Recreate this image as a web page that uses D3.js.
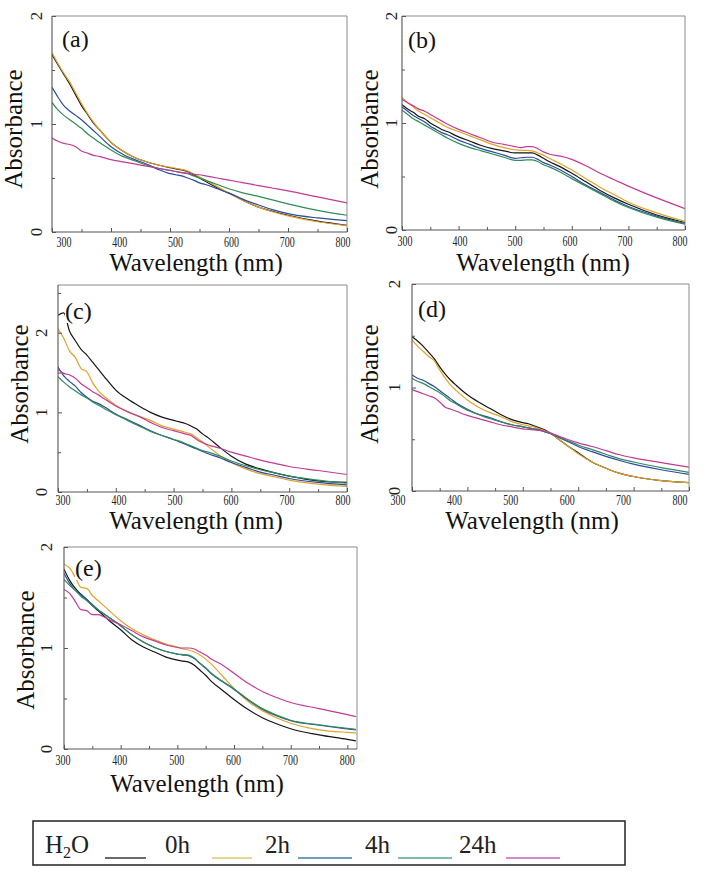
<!DOCTYPE html>
<html><head><meta charset="utf-8">
<script src="https://cdn.jsdelivr.net/npm/d3@7"></script>
<style>body{margin:0;background:#fff}svg{display:block}</style>
</head><body>
<svg id="chart" width="714" height="876"></svg>
<script>
// ---------- data ----------
const seriesNames = ["H2O", "0h", "2h", "4h", "24h"];
const wl  = [300,310,320,330,340,350,360,370,380,400,420,440,460,480,500,510,520,530,540,550,560,580,600,625,650,675,700,750,800];
const wlE = [300,310,320,330,340,350,360,370,380,400,420,440,460,480,500,510,520,530,540,550,560,580,600,625,650,675,700,750,800,815];
const xTicks = [300,400,500,600,700,800];
const xMinor = [350,450,550,650,750];

const a_H2O = [1.64,1.55,1.46,1.37,1.27,1.17,1.09,1.01,0.95,0.83,0.75,0.69,0.65,0.62,0.595,0.585,0.575,0.56,0.53,0.50,0.47,0.41,0.36,0.29,0.23,0.19,0.155,0.10,0.062];
const a_0h  = [1.66,1.56,1.47,1.39,1.29,1.19,1.10,1.02,0.95,0.83,0.75,0.69,0.65,0.62,0.60,0.59,0.58,0.565,0.54,0.51,0.48,0.42,0.36,0.29,0.23,0.185,0.15,0.095,0.06];
const a_2h  = [1.34,1.25,1.17,1.12,1.08,1.04,0.99,0.94,0.89,0.79,0.72,0.67,0.63,0.58,0.54,0.53,0.52,0.50,0.48,0.455,0.44,0.40,0.36,0.30,0.25,0.205,0.17,0.13,0.105];
const a_4h  = [1.20,1.13,1.08,1.04,1.00,0.96,0.91,0.87,0.83,0.76,0.70,0.66,0.62,0.59,0.57,0.56,0.55,0.54,0.52,0.50,0.48,0.44,0.40,0.36,0.33,0.295,0.26,0.20,0.155];
const a_24h = [0.87,0.84,0.82,0.81,0.79,0.75,0.73,0.71,0.70,0.67,0.65,0.63,0.61,0.59,0.57,0.56,0.55,0.545,0.535,0.53,0.52,0.50,0.48,0.455,0.43,0.405,0.38,0.325,0.27];

const b_H2O = [1.17,1.13,1.10,1.06,1.04,1.00,0.97,0.94,0.92,0.87,0.83,0.79,0.76,0.74,0.72,0.72,0.72,0.72,0.70,0.67,0.64,0.59,0.53,0.45,0.37,0.30,0.24,0.14,0.07];
const b_0h  = [1.24,1.19,1.15,1.11,1.08,1.05,1.02,0.99,0.96,0.92,0.88,0.84,0.80,0.77,0.75,0.745,0.745,0.74,0.72,0.70,0.67,0.62,0.56,0.48,0.40,0.33,0.26,0.16,0.08];
const b_2h  = [1.15,1.11,1.07,1.04,1.01,0.97,0.94,0.91,0.89,0.84,0.80,0.76,0.73,0.70,0.67,0.675,0.68,0.68,0.66,0.63,0.61,0.56,0.50,0.42,0.35,0.28,0.22,0.13,0.06];
const b_4h  = [1.12,1.08,1.04,1.01,0.98,0.95,0.92,0.89,0.86,0.81,0.77,0.74,0.71,0.68,0.65,0.65,0.655,0.655,0.64,0.61,0.59,0.54,0.48,0.41,0.34,0.27,0.21,0.12,0.055];
const b_24h = [1.22,1.19,1.16,1.13,1.11,1.08,1.05,1.02,0.99,0.94,0.90,0.86,0.82,0.80,0.78,0.77,0.78,0.78,0.76,0.73,0.71,0.69,0.66,0.60,0.53,0.47,0.41,0.30,0.20];

const c_H2O = [2.22,2.25,2.02,1.90,1.79,1.72,1.63,1.54,1.45,1.28,1.17,1.08,1.00,0.94,0.90,0.88,0.86,0.83,0.79,0.73,0.68,0.56,0.45,0.35,0.29,0.24,0.20,0.14,0.12];
const c_0h  = [2.05,1.93,1.77,1.69,1.55,1.51,1.37,1.27,1.20,1.09,1.01,0.95,0.90,0.83,0.79,0.77,0.75,0.73,0.68,0.63,0.57,0.46,0.37,0.29,0.23,0.19,0.15,0.10,0.07];
const c_2h  = [1.57,1.46,1.39,1.33,1.25,1.19,1.14,1.11,1.07,0.98,0.91,0.84,0.77,0.71,0.66,0.63,0.60,0.57,0.54,0.51,0.48,0.43,0.37,0.31,0.25,0.21,0.17,0.12,0.09];
const c_4h  = [1.45,1.38,1.32,1.27,1.22,1.18,1.13,1.09,1.05,0.97,0.90,0.83,0.76,0.71,0.66,0.64,0.61,0.58,0.55,0.52,0.50,0.45,0.39,0.33,0.28,0.24,0.20,0.15,0.11];
const c_24h = [1.54,1.49,1.47,1.43,1.36,1.31,1.26,1.22,1.17,1.08,1.01,0.95,0.875,0.81,0.77,0.75,0.73,0.71,0.66,0.62,0.59,0.55,0.50,0.45,0.40,0.36,0.32,0.27,0.22];

const d_H2O = [1.49,1.45,1.40,1.34,1.28,1.20,1.13,1.07,1.02,0.93,0.86,0.80,0.74,0.69,0.66,0.65,0.63,0.61,0.59,0.56,0.52,0.44,0.37,0.28,0.22,0.17,0.14,0.10,0.08];
const d_0h  = [1.46,1.40,1.35,1.30,1.26,1.17,1.09,1.02,0.97,0.88,0.81,0.76,0.72,0.67,0.64,0.63,0.62,0.60,0.58,0.56,0.52,0.44,0.36,0.28,0.22,0.17,0.14,0.10,0.08];
const d_2h  = [1.12,1.09,1.07,1.04,1.01,0.97,0.93,0.89,0.85,0.79,0.74,0.71,0.67,0.64,0.62,0.61,0.60,0.59,0.57,0.555,0.53,0.48,0.43,0.38,0.335,0.295,0.26,0.205,0.16];
const d_4h  = [1.09,1.06,1.04,1.01,0.98,0.95,0.91,0.87,0.84,0.78,0.74,0.70,0.67,0.64,0.62,0.61,0.60,0.59,0.57,0.555,0.535,0.49,0.445,0.40,0.355,0.31,0.28,0.225,0.18];
const d_24h = [0.98,0.96,0.94,0.92,0.90,0.86,0.81,0.79,0.77,0.73,0.70,0.67,0.64,0.62,0.60,0.595,0.59,0.585,0.575,0.56,0.54,0.50,0.465,0.43,0.39,0.35,0.32,0.275,0.23];

const e_H2O = [1.78,1.67,1.59,1.53,1.48,1.42,1.37,1.32,1.27,1.18,1.08,1.01,0.96,0.91,0.88,0.87,0.86,0.83,0.78,0.73,0.67,0.58,0.49,0.39,0.31,0.25,0.20,0.14,0.095,0.08];
const e_0h  = [1.83,1.79,1.70,1.60,1.59,1.52,1.47,1.42,1.37,1.27,1.19,1.13,1.08,1.04,1.01,0.99,0.98,0.96,0.93,0.89,0.84,0.72,0.60,0.47,0.38,0.31,0.255,0.19,0.165,0.16];
const e_2h  = [1.74,1.64,1.57,1.53,1.48,1.43,1.38,1.34,1.30,1.22,1.13,1.06,1.005,0.965,0.94,0.93,0.925,0.895,0.845,0.80,0.745,0.665,0.59,0.485,0.395,0.33,0.28,0.235,0.20,0.19];
const e_4h  = [1.68,1.62,1.57,1.51,1.47,1.42,1.38,1.34,1.30,1.22,1.13,1.06,1.005,0.965,0.94,0.935,0.93,0.90,0.85,0.805,0.75,0.67,0.595,0.49,0.40,0.335,0.285,0.24,0.205,0.195];
const e_24h = [1.58,1.54,1.46,1.38,1.37,1.33,1.33,1.31,1.28,1.23,1.17,1.11,1.07,1.03,1.005,1.00,1.00,0.99,0.96,0.93,0.89,0.83,0.75,0.65,0.57,0.51,0.46,0.40,0.34,0.32];

// ---------- styles ----------
const seriesColors = ["#151515", "#e0a22a", "#2c4a9e", "#2e8b5a", "#c23a98"];
const legendColors = ["#6b6b6b", "#e6d98c", "#6aa3b8", "#7cc0a4", "#d48ace"];
const FONT = '"Liberation Serif"';

const panels = [
  {tag:"(a)", wl:wl,  data:[a_H2O,a_0h,a_2h,a_4h,a_24h], left:52,  right:347, top:16,  bottom:232, xMax:800, yMax:2,   inset:[12,4],  yOff:10, yTitle:[22,129],  xTitle:[196,271], xTickY:247, tagPos:[62,47]},
  {tag:"(b)", wl:wl,  data:[b_H2O,b_0h,b_2h,b_4h,b_24h], left:402, right:685, top:16,  bottom:230, xMax:800, yMax:2,   inset:[3,5],   yOff:5,  yTitle:[378,129], xTitle:[543,271], xTickY:246, tagPos:[408,48]},
  {tag:"(c)", wl:wl,  data:[c_H2O,c_0h,c_2h,c_4h,c_24h], left:58,  right:347, top:285, bottom:492, xMax:800, yMax:2.6, inset:[5,4],   yOff:11, yTitle:[28,384],  xTitle:[196,529], xTickY:505, tagPos:[65,319]},
  {tag:"(d)", wl:wl,  data:[d_H2O,d_0h,d_2h,d_4h,d_24h], left:412, right:689, top:284, bottom:491, xMax:800, yMax:2,   inset:[-14,9], yOff:12, yTitle:[378,384], xTitle:[532,529], xTickY:505, tagPos:[418,317]},
  {tag:"(e)", wl:wlE, data:[e_H2O,e_0h,e_2h,e_4h,e_24h], left:64,  right:357, top:547, bottom:749, xMax:817, yMax:2,   inset:[-1,0],  yOff:12, yTitle:[34,650],  xTitle:[197,792], xTickY:765, tagPos:[75,576]}
];

const svg = d3.select("#chart");
svg.append("rect").attr("width",714).attr("height",876).attr("fill","#fff");

function txt(sel) { return sel.style("font-family", FONT); }

panels.forEach((p, pi) => {
  const x = d3.scaleLinear().domain([300, p.xMax]).range([p.left, p.right]);
  const y = d3.scaleLinear().domain([0, p.yMax]).range([p.bottom, p.top]);
  const g = svg.append("g");

  const clipId = "clip" + pi;
  svg.append("clipPath").attr("id", clipId).append("rect")
    .attr("x", p.left).attr("y", p.top).attr("width", p.right - p.left).attr("height", p.bottom - p.top);

  const line = d3.line().x(d => x(d[0])).y(d => y(d[1])).curve(d3.curveMonotoneX);
  p.data.forEach((vals, i) => {
    g.append("path")
      .datum(p.wl.map((w, j) => [w, vals[j]]))
      .attr("d", line)
      .attr("fill", "none")
      .attr("stroke", seriesColors[i])
      .attr("stroke-width", 1.2)
      .attr("clip-path", `url(#${clipId})`);
  });

  // frame
  g.append("line").attr("x1",p.left).attr("x2",p.right).attr("y1",p.top).attr("y2",p.top).attr("stroke","#8a8a8a");
  g.append("line").attr("x1",p.right).attr("x2",p.right).attr("y1",p.top).attr("y2",p.bottom).attr("stroke","#8a8a8a");

  // ticks
  const axB = g.append("g").attr("transform", `translate(0,${p.bottom})`)
    .call(d3.axisBottom(x).tickValues(xTicks).tickSize(-4).tickFormat(""));
  const axBm = g.append("g").attr("transform", `translate(0,${p.bottom})`)
    .call(d3.axisBottom(x).tickValues(xMinor).tickSize(-3).tickFormat(""));
  const yMaj = [0,1,2].filter(v => v <= p.yMax);
  const yMin = [0.5,1.5,2.5].filter(v => v <= p.yMax);
  const axL = g.append("g").attr("transform", `translate(${p.left},0)`)
    .call(d3.axisLeft(y).tickValues(yMaj).tickSize(-4).tickFormat(""));
  const axLm = g.append("g").attr("transform", `translate(${p.left},0)`)
    .call(d3.axisLeft(y).tickValues(yMin).tickSize(-3).tickFormat(""));
  [axB, axBm, axL, axLm].forEach(a => {
    a.selectAll(".domain").attr("stroke", "#555").attr("stroke-width", 1.1);
    a.selectAll(".tick line").attr("stroke", "#555");
  });
  axB.select(".domain").attr("d", `M${p.left},0H${p.right}`);
  axL.select(".domain").attr("d", `M0,${p.top}V${p.bottom}`);
  axBm.select(".domain").remove();
  axLm.select(".domain").remove();

  // x tick labels
  const lx = d3.scaleLinear().domain([300, 800]).range([x(300) + p.inset[0], x(800) - p.inset[1]]);
  txt(g.selectAll(".xl").data(xTicks).enter().append("text"))
    .attr("x", d => lx(d)).attr("y", p.xTickY)
    .attr("text-anchor", "middle")
    .attr("font-size", 14)
    .attr("textLength", 15).attr("lengthAdjust", "spacingAndGlyphs")
    .attr("fill", "#222")
    .text(d => d);

  // y tick labels (rotated)
  txt(g.selectAll(".yl").data(yMaj).enter().append("text"))
    .attr("transform", d => `translate(${p.left - p.yOff},${y(d)}) rotate(-90)`)
    .attr("text-anchor", "middle")
    .attr("font-size", 17)
    .attr("fill", "#222")
    .text(d => d);

  // axis titles
  txt(g.append("text"))
    .attr("transform", `translate(${p.yTitle[0]},${p.yTitle[1]}) rotate(-90)`)
    .attr("text-anchor", "middle")
    .attr("font-size", 25).attr("fill", "#111")
    .text("Absorbance");
  txt(g.append("text"))
    .attr("x", p.xTitle[0]).attr("y", p.xTitle[1])
    .attr("text-anchor", "middle")
    .attr("font-size", 25).attr("fill", "#111")
    .text("Wavelength (nm)");

  // panel tag with white backing
  const t = txt(g.append("text"))
    .attr("x", p.tagPos[0]).attr("y", p.tagPos[1])
    .attr("font-size", 24).attr("fill", "#111")
    .text(p.tag);
  const bb = t.node().getBBox();
  g.insert("rect", () => t.node())
    .attr("x", bb.x).attr("y", bb.y + 2).attr("width", bb.width).attr("height", bb.height - 3)
    .attr("fill", "#fff");
});

// ---------- legend ----------
const legendTextX = [45, 165, 265, 365, 459];
const legendLineX = [[105,146],[212,252],[298,352],[398,452],[506,560]];
const lg = svg.append("g");
lg.append("rect").attr("x", 33).attr("y", 821).attr("width", 592).attr("height", 44)
  .attr("fill", "#fff").attr("stroke", "#222").attr("stroke-width", 1.5);
seriesNames.forEach((name, i) => {
  const t = txt(lg.append("text"))
    .attr("x", legendTextX[i]).attr("y", 853)
    .attr("font-size", 25).attr("fill", "#222");
  if (name === "H2O") {
    t.append("tspan").text("H");
    t.append("tspan").attr("font-size", 16).attr("dy", 5).text("2");
    t.append("tspan").attr("dy", -5).text("O");
  } else {
    t.text(name);
  }
  lg.append("line")
    .attr("x1", legendLineX[i][0]).attr("x2", legendLineX[i][1])
    .attr("y1", 858).attr("y2", 858)
    .attr("stroke", legendColors[i]).attr("stroke-width", 2);
});
</script>
</body></html>
